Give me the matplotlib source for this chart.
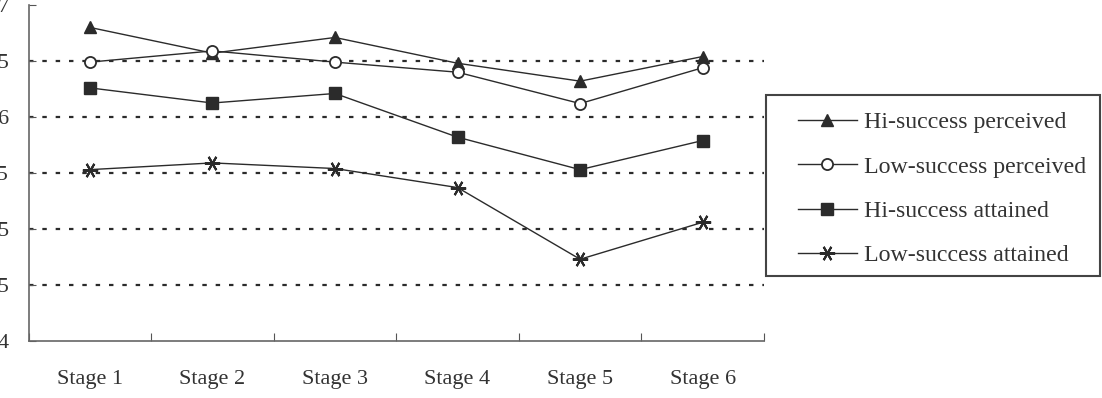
import matplotlib.pyplot as plt
from matplotlib.patches import Rectangle

plt.rcParams['font.family'] = ['Liberation Serif', 'DejaVu Serif']

stages = ['Stage 1', 'Stage 2', 'Stage 3', 'Stage 4', 'Stage 5', 'Stage 6']
hi_perceived = [6.80, 6.57, 6.71, 6.48, 6.32, 6.54]
low_perceived = [6.49, 6.59, 6.49, 6.40, 6.12, 6.44]
hi_attained = [6.26, 6.125, 6.21, 5.82, 5.53, 5.79]
low_attained = [5.53, 5.59, 5.54, 5.37, 4.73, 5.06]
yticks = [4, 4.5, 5, 5.5, 6, 6.5, 7]
ytick_labels = ['4', '4.5', '5', '5.5', '6', '6.5', '7']

c = '#2b2b2b'
fig = plt.figure(figsize=(11.02, 3.98), dpi=100)
ax = fig.add_axes([28.5/1102, 1-341/398, (764-28.5)/1102, 336/398])

x = list(range(1, len(stages)+1))
ax.plot(x, hi_perceived, color=c, lw=1, marker='^', ms=9, mfc=c, mec=c, label='Hi-success perceived', zorder=3)
ax.plot(x, low_perceived, color=c, lw=1, marker='o', ms=8, mfc='white', mec=c, mew=1.3, label='Low-success perceived', zorder=3)
ax.plot(x, hi_attained, color=c, lw=1, marker='s', ms=8, mfc=c, mec=c, label='Hi-success attained', zorder=3)
ax.plot(x, low_attained, color=c, lw=1, marker=(6, 2, 90), ms=11, mec=c, mew=1.5, label='Low-success attained', zorder=3)

ax.set_ylim(4, 7)
ax.set_xlim(0.5, 6.5)
ax.set_yticks(yticks)
ax.set_yticklabels(ytick_labels)
for v in yticks[1:-1]:
    ax.axhline(v, color=c, lw=1.6, ls=(0, (2, 4)), zorder=1)

ax.set_xticks([i + 0.5 for i in range(0, 7)])
ax.set_xticklabels([])
ax.set_xticks(x, minor=True)
ax.set_xticklabels(stages, minor=True)
ax.tick_params(axis='x', which='major', direction='in', length=6, color='#555555')
ax.tick_params(axis='x', which='minor', length=0, pad=21, labelsize=16, labelcolor='#333333')
ax.tick_params(axis='y', direction='in', length=5, pad=14, labelsize=16, labelcolor='#333333', color='#555555')

for s in ['top', 'right']:
    ax.spines[s].set_visible(False)
for s in ['left', 'bottom']:
    ax.spines[s].set_color('#666666')
    ax.spines[s].set_linewidth(1.2)

fig.patches.append(Rectangle((766/1102, 1-276/398), 334/1102, 181/398, transform=fig.transFigure,
                             fill=False, ec='#444444', lw=1.5))
h, l = ax.get_legend_handles_labels()
fig.legend(h, l, loc='center left', bbox_to_anchor=(798/1102, 1-189/398), frameon=False,
           borderpad=0, borderaxespad=0, fontsize=17.2, handlelength=2.45, handletextpad=0.3,
           labelspacing=0.95, labelcolor='#333333')

fig.savefig('out.png', dpi=100)
